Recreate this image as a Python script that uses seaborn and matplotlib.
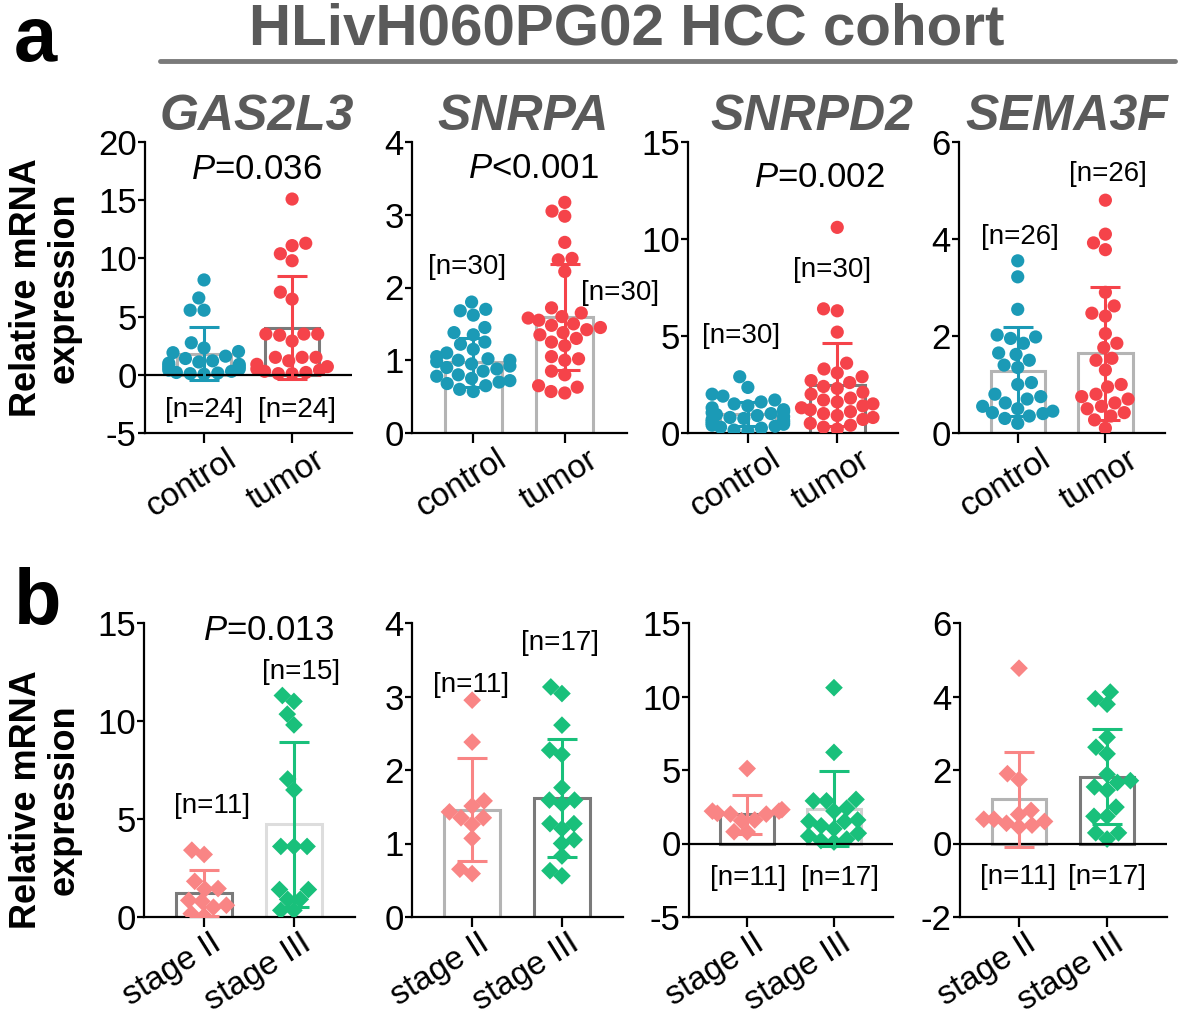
import pandas as pd
import seaborn as sns
import matplotlib.pyplot as plt
from matplotlib.lines import Line2D
from matplotlib.transforms import ScaledTranslation

# ============================================
# DATA
# ============================================

groups_a = ["control", "tumor"]
groups_b = ["stage II", "stage III"]
genes = ["GAS2L3", "SNRPA", "SNRPD2", "SEMA3F"]

# --- a: control vs tumor ---
gas2l3_control = [8.15, 6.6, 5.55, 5.55, 2.75, 2.3, 2.0, 1.9, 1.6, 1.4, 1.2, 1.1,
                  1.0, 0.9, 0.8, 0.7, 0.6, 0.5, 0.4, 0.3, 0.2, 0.15, 0.1, 0.05]
gas2l3_tumor = [15.1, 11.3, 11.1, 10.4, 9.8, 7.1, 6.5, 3.5, 3.5, 3.5, 3.4, 2.9,
                1.5, 1.5, 1.5, 1.2, 0.9, 0.7, 0.5, 0.4, 0.3, 0.2, 0.1, 0.1]
gas2l3_mean = [1.82, 4.05]
gas2l3_sd = [2.28, 4.45]

snrpa_control = [1.80, 1.70, 1.68, 1.62, 1.45, 1.38, 1.35, 1.25, 1.22, 1.15,
                 1.10, 1.05, 1.02, 1.00, 1.00, 0.98, 0.95, 0.92, 0.90, 0.88,
                 0.85, 0.80, 0.78, 0.75, 0.72, 0.70, 0.68, 0.65, 0.60, 0.57]
snrpa_tumor = [3.17, 3.05, 2.98, 2.62, 2.40, 2.38, 2.22, 1.72, 1.65, 1.60,
               1.58, 1.55, 1.50, 1.48, 1.45, 1.42, 1.38, 1.35, 1.30, 1.25,
               1.20, 1.05, 1.02, 1.00, 0.85, 0.80, 0.65, 0.63, 0.57, 0.55]
snrpa_mean = [0.97, 1.59]
snrpa_sd = [0.34, 0.73]

snrpd2_control = [2.9, 2.35, 2.0, 1.9, 1.7, 1.6, 1.5, 1.4, 1.3, 1.2, 1.1, 1.05,
                  1.0, 0.95, 0.9, 0.85, 0.8, 0.75, 0.7, 0.65, 0.6, 0.55, 0.5,
                  0.45, 0.4, 0.35, 0.3, 0.25, 0.15, 0.1]
snrpd2_tumor = [10.6, 6.4, 6.3, 5.2, 3.6, 3.3, 3.1, 2.9, 2.7, 2.6, 2.4, 2.3,
                2.1, 2.0, 1.8, 1.7, 1.6, 1.5, 1.4, 1.3, 1.2, 1.1, 1.0, 0.9,
                0.8, 0.7, 0.5, 0.4, 0.3, 0.2]
snrpd2_mean = [0.98, 2.5]
snrpd2_sd = [0.62, 2.15]

sema3f_control = [3.55, 3.22, 2.55, 2.02, 1.98, 1.95, 1.85, 1.65, 1.62, 1.5,
                  1.4, 1.35, 1.04, 1.0, 0.8, 0.75, 0.7, 0.62, 0.55, 0.5, 0.45,
                  0.42, 0.4, 0.35, 0.3, 0.2]
sema3f_tumor = [4.8, 4.1, 3.92, 3.78, 2.9, 2.62, 2.47, 2.41, 2.05, 1.85, 1.76,
                1.54, 1.5, 1.3, 1.0, 0.95, 0.8, 0.75, 0.7, 0.62, 0.55, 0.5,
                0.42, 0.35, 0.27, 0.1]
sema3f_mean = [1.27, 1.64]
sema3f_sd = [0.92, 1.37]

# --- b: stage II vs stage III ---
gas2l3_s2 = [3.41, 3.19, 1.82, 1.45, 1.42, 0.85, 0.8, 0.6, 0.5, 0.17, 0.05]
gas2l3_s3 = [11.3, 11.0, 10.35, 9.8, 7.04, 6.48, 3.6, 3.6, 3.6, 1.4, 1.4,
             0.9, 0.9, 0.34, 0.34]
gas2l3_b_mean = [1.23, 4.72]
gas2l3_b_sd = [1.19, 4.2]

snrpa_s2 = [2.95, 2.38, 1.58, 1.51, 1.43, 1.35, 1.35, 1.26, 1.07, 0.65, 0.59]
snrpa_s3 = [3.13, 3.04, 2.61, 2.27, 2.21, 1.76, 1.59, 1.59, 1.54, 1.27, 1.27,
            1.2, 1.05, 1.0, 0.83, 0.63, 0.56]
snrpa_b_mean = [1.46, 1.62]
snrpa_b_sd = [0.70, 0.80]

snrpd2_s2 = [5.1, 2.3, 2.2, 2.2, 2.05, 2.0, 2.0, 1.6, 1.55, 0.8, 0.78]
snrpd2_s3 = [10.6, 6.2, 3.0, 2.9, 2.9, 2.4, 2.2, 1.6, 1.5, 1.5, 1.2, 1.0,
             0.7, 0.5, 0.3, 0.2, 0.1]
snrpd2_b_mean = [2.0, 2.38]
snrpd2_b_sd = [1.33, 2.56]

sema3f_s2 = [4.77, 1.9, 1.74, 0.9, 0.79, 0.66, 0.66, 0.6, 0.55, 0.5, 0.45]
sema3f_s3 = [4.12, 3.94, 3.79, 2.89, 2.62, 2.44, 1.88, 1.71, 1.66, 1.54, 1.45,
             0.99, 0.74, 0.74, 0.29, 0.29, 0.12]
sema3f_b_mean = [1.2, 1.82]
sema3f_b_sd = [1.29, 1.3]

p_values_a = ["=0.036", "<0.001", "=0.002", None]
p_values_b = ["=0.013", None, None, None]

# ============================================
# STYLE
# ============================================

sns.set_theme(style="ticks")
plt.rcParams["font.family"] = ["Liberation Sans", "DejaVu Sans"]
plt.rcParams["mathtext.fontset"] = "custom"
plt.rcParams["mathtext.it"] = "Liberation Sans:italic"
plt.rcParams["mathtext.rm"] = "Liberation Sans"

W, H = 1181, 1019
fig = plt.figure(figsize=(W / 100, H / 100), dpi=100)
fig.patch.set_facecolor("white")

col_a = ["#1b9ab6", "#f5434a"]
col_b = ["#f98585", "#19c07b"]
LIGHT, DARK = "#b4b4b4", "#7a7a7a"
title_gray = "#5a5a5a"


def px_axes(left, right, top, bottom):
    return fig.add_axes([left / W, 1 - bottom / H, (right - left) / W, (bottom - top) / H])


panels = [
    # row a
    dict(box=(145, 352, 142, 433), ylim=(-5, 20), yt=[-5, 0, 5, 10, 15, 20],
         pts=[gas2l3_control, gas2l3_tumor], mean=gas2l3_mean, sd=gas2l3_sd,
         groups=groups_a, cols=col_a, edges=[LIGHT, DARK], marker="o",
         ntext=[(0.0, -3.0), (1.05, -3.0)], p=p_values_a[0], ppos=(0.6, 17.6)),
    dict(box=(412, 627, 142, 433), ylim=(0, 4), yt=[0, 1, 2, 3, 4],
         pts=[snrpa_control, snrpa_tumor], mean=snrpa_mean, sd=snrpa_sd,
         groups=groups_a, cols=col_a, edges=[LIGHT, LIGHT], marker="o",
         ntext=[(-0.07, 2.28), (1.6, 1.93)], p=p_values_a[1], ppos=(0.66, 3.63)),
    dict(box=(688, 898, 142, 433), ylim=(0, 15), yt=[0, 5, 10, 15],
         pts=[snrpd2_control, snrpd2_tumor], mean=snrpd2_mean, sd=snrpd2_sd,
         groups=groups_a, cols=col_a, edges=[LIGHT, DARK], marker="o",
         ntext=[(-0.08, 4.98), (0.94, 8.42)], p=p_values_a[2], ppos=(0.8, 13.15)),
    dict(box=(959, 1165, 142, 433), ylim=(0, 6), yt=[0, 2, 4, 6],
         pts=[sema3f_control, sema3f_tumor], mean=sema3f_mean, sd=sema3f_sd,
         groups=groups_a, cols=col_a, edges=[LIGHT, LIGHT], marker="o",
         ntext=[(0.03, 4.05), (1.03, 5.34)], p=p_values_a[3], ppos=None),
    # row b
    dict(box=(144, 355, 623, 917), ylim=(0, 15), yt=[0, 5, 10, 15],
         pts=[gas2l3_s2, gas2l3_s3], mean=gas2l3_b_mean, sd=gas2l3_b_sd,
         groups=groups_b, cols=col_b, edges=[DARK, "#dddddd"], marker="D",
         ntext=[(0.09, 5.68), (1.08, 12.5)], p=p_values_b[0], ppos=(0.72, 14.64)),
    dict(box=(412, 623, 623, 917), ylim=(0, 4), yt=[0, 1, 2, 3, 4],
         pts=[snrpa_s2, snrpa_s3], mean=snrpa_b_mean, sd=snrpa_b_sd,
         groups=groups_b, cols=col_b, edges=[LIGHT, DARK], marker="D",
         ntext=[(-0.01, 3.16), (0.98, 3.73)], p=None, ppos=None),
    dict(box=(689, 893, 623, 917), ylim=(-5, 15), yt=[-5, 0, 5, 10, 15],
         pts=[snrpd2_s2, snrpd2_s3], mean=snrpd2_b_mean, sd=snrpd2_b_sd,
         groups=groups_b, cols=col_b, edges=[DARK, "#d0d0d0"], marker="D",
         ntext=[(0.01, -2.38), (1.07, -2.38)], p=None, ppos=None),
    dict(box=(960, 1167, 623, 917), ylim=(-2, 6), yt=[-2, 0, 2, 4, 6],
         pts=[sema3f_s2, sema3f_s3], mean=sema3f_b_mean, sd=sema3f_b_sd,
         groups=groups_b, cols=col_b, edges=[LIGHT, DARK], marker="D",
         ntext=[(-0.01, -0.92), (1.0, -0.92)], p=None, ppos=None),
]

# ============================================
# PLOT
# ============================================

for pan in panels:
    ax = px_axes(*pan["box"])
    ax.set_facecolor("white")
    g = pan["groups"]

    sns.barplot(x=g, y=pan["mean"], order=g, ax=ax, width=0.62,
                color="white", errorbar=None, zorder=1)
    for patch, ec in zip(ax.patches, pan["edges"]):
        patch.set_facecolor("white")
        patch.set_edgecolor(ec)
        patch.set_linewidth(2.2)

    df = pd.DataFrame({
        "group": [g[0]] * len(pan["pts"][0]) + [g[1]] * len(pan["pts"][1]),
        "value": pan["pts"][0] + pan["pts"][1],
    })
    sns.swarmplot(data=df, x="group", y="value", hue="group", order=g,
                  hue_order=g, palette=pan["cols"], marker=pan["marker"],
                  size=9.5 if pan["marker"] == "o" else 9, linewidth=0,
                  legend=False, ax=ax, zorder=3, warn_thresh=1.0)

    for i in range(2):
        ax.errorbar([i], [pan["mean"][i]], yerr=[pan["sd"][i]], fmt="none",
                    ecolor=pan["cols"][i], elinewidth=2.2, capsize=11,
                    capthick=2.2, zorder=5)

    n_labels = [f"[n={len(pan['pts'][0])}]", f"[n={len(pan['pts'][1])}]"]
    for (tx, ty), lab in zip(pan["ntext"], n_labels):
        ax.text(tx, ty, lab, ha="center", va="center", fontsize=20,
                color="black", clip_on=False, zorder=6)

    if pan["p"] is not None:
        ax.text(pan["ppos"][0], pan["ppos"][1], r"$\it{P}$" + pan["p"],
                ha="center", va="center", fontsize=25, color="black")

    ax.set_ylim(*pan["ylim"])
    ax.set_yticks(pan["yt"])
    ax.set_yticklabels([str(v) for v in pan["yt"]])
    ax.set_xlim(-0.67, 1.68)
    ax.set_xticks([0, 1])
    ax.set_xlabel("")
    ax.set_ylabel("")

    if pan["ylim"][0] < 0:
        ax.axhline(0, color="black", lw=1.6, zorder=4)

    for side in ["top", "right"]:
        ax.spines[side].set_visible(False)
    for side in ["left", "bottom"]:
        ax.spines[side].set_linewidth(1.6)
        ax.spines[side].set_color("black")
    ax.tick_params(axis="y", length=5, width=1.6, pad=1, labelsize=25,
                   colors="black")
    ax.tick_params(axis="x", length=7, width=1.6, pad=1, labelsize=24,
                   colors="black")

    # rotated category labels, nudged right like the original
    ax.set_xticklabels(g, rotation=32, ha="right", va="top",
                       rotation_mode="anchor")
    shift = 0.22 if g is groups_a else 0.06
    for lab in ax.get_xticklabels():
        lab.set_transform(lab.get_transform() +
                          ScaledTranslation(shift, 0, fig.dpi_scale_trans))

# gene titles
for gene, cx in zip(genes, [257, 523, 812, 1067]):
    fig.text(cx / W, 1 - 130 / H, gene, ha="center", va="baseline",
             fontsize=36, fontweight="bold", fontstyle="italic", color=title_gray)

# header
fig.text(627 / W, 1 - 44 / H, "HLivH060PG02 HCC cohort", ha="center",
         va="baseline", fontsize=42, fontweight="bold", color=title_gray)
fig.add_artist(Line2D([160 / W, 1175 / W], [1 - 61 / H, 1 - 61 / H],
                      color="#7a7a7a", lw=3.5, transform=fig.transFigure))

# panel letters
fig.text(35 / W, 1 - 61 / H, "a", ha="center", va="baseline", fontsize=56,
         fontweight="bold", color="black")
fig.text(38 / W, 1 - 624 / H, "b", ha="center", va="baseline", fontsize=56,
         fontweight="bold", color="black")

# y labels
for cy in [288, 800]:
    fig.text(45 / W, 1 - cy / H, "Relative mRNA\nexpression", ha="center",
             va="center", rotation=90, fontsize=26, fontweight="bold",
             color="black", linespacing=1.1)

plt.savefig("out.png", dpi=100, facecolor="white")
